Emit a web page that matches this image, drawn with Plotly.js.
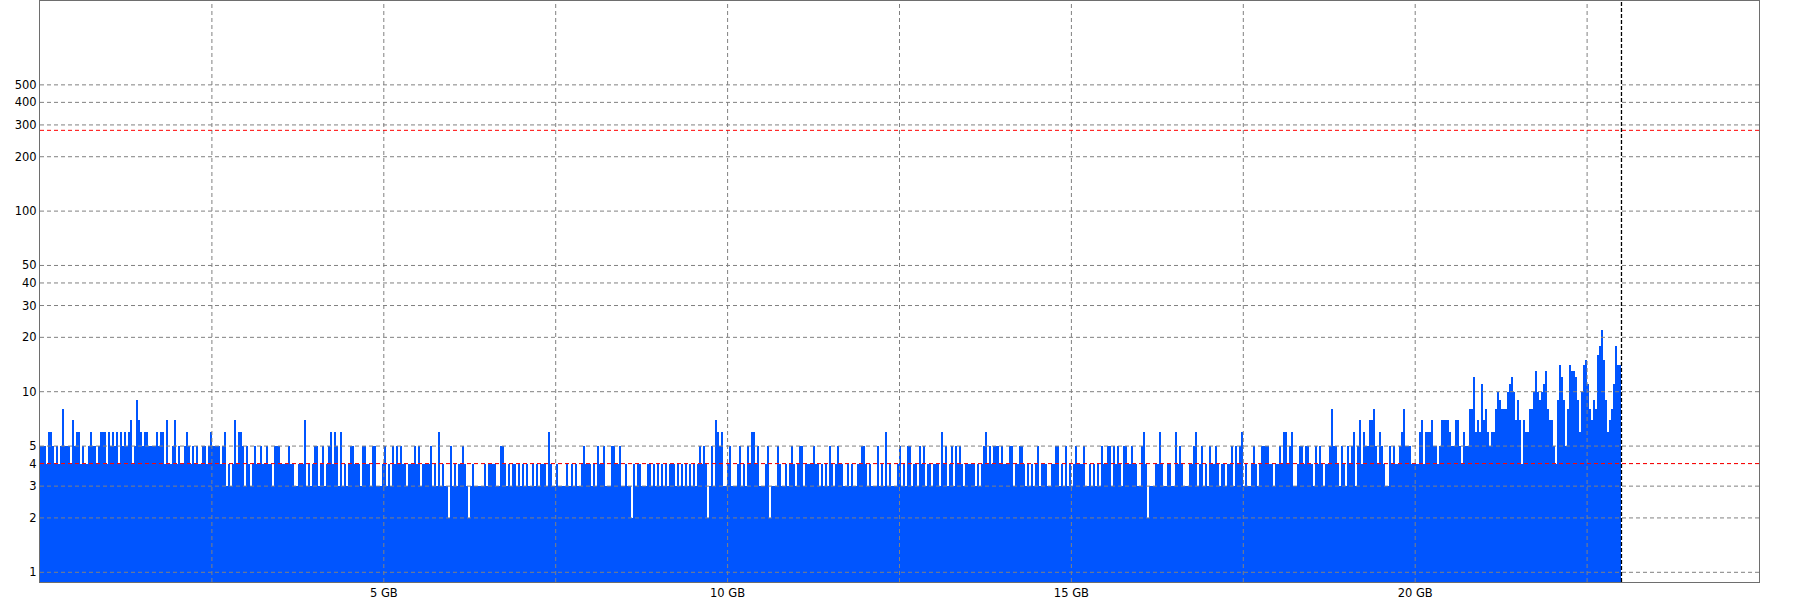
<!DOCTYPE html>
<html>
<head>
<meta charset="utf-8">
<script src="https://cdn.plot.ly/plotly-3.0.1.min.js"></script>
<style>
html,body{margin:0;padding:0;background:#ffffff;}
#chart{width:1800px;height:600px;}
</style>
</head>
<body>
<div id="chart"></div>
<script>
// Bar values (one bar per block), left to right
const seg1 = [
5,5,5,4,6,6,5,4,5,4, 5,8,5,5,5,4,7,5,6,6, 4,5,4,4,5,6,5,5,4,5, 6,6,6,4,6,5,6,5,6,4,
6,5,6,5,6,7,4,5,9,7, 6,5,6,6,5,5,5,5,6,5, 6,6,4,7,4,4,5,7,4,5, 4,4,5,6,5,4,5,4,5,4,
4,5,5,4,5,6,5,5,5,5, 4,5,6,3,4,3,4,7,4,6, 6,5,3,5,4,3,4,5,4,4, 5,4,4,5,4,4,3,5,5,5,
4,4,4,4,5,4,4,3,3,4, 4,4,7,3,4,3,4,5,5,3, 4,5,3,4,5,6,4,6,5,3, 6,3,4,3,4,5,5,4
];
const seg2 = [
4,4,3,5,5,4,4,3,5,5, 3,3,3,4,5,3,4,3,5,4, 5,4,5,4,4,3,4,4,4,5, 4,5,3,4,4,4,4,5,3,4,
3,6,3,4,3,3,2,5,3,4, 3,4,4,5,4,3,2,3,4,3, 3,3,3,3,4,3,4,4,4,4, 3,3,5,5,4,3,4,3,4,4,
3,4,3,4,3,4,3,3,4,3, 4,3,4,4,4,3,6,4,3,3, 4,3,3,3,3,4,3,4,3,4, 3,3,4,5,4,4,4,3,4,3,
5,4,4,5,3,3,3,5,5,4, 4,5,3,3,4,3,3,2,4,3, 4,4,3,3,3,4,4,3,4,3, 4,3,4,3,4,3,4,4
];
const seg3 = [
4,3,4,3,4,3,4,3,4,3, 4,3,4,5,4,5,4,2,3,5, 3,7,6,5,6,3,3,4,5,3, 3,3,4,5,3,4,3,5,4,6,
6,4,5,3,3,3,4,5,2,3, 3,3,5,4,3,3,4,3,4,5, 4,3,4,5,5,3,4,4,4,4, 5,4,4,3,4,3,4,3,5,4,
3,4,5,4,4,3,3,4,3,4, 3,3,4,4,5,5,4,3,4,3, 3,3,5,3,4,3,6,3,4,3, 3,3,4,5,3,4,3,5,5,3,
4,4,3,5,4,5,3,4,4,3, 4,4,4,3,6,4,5,3,4,5, 3,5,4,5,4,3,4,4,4,4, 4,3,4,3,4,5,6,4
];
const seg4 = [
5,4,5,5,5,4,5,4,4,4, 5,5,3,4,4,5,5,4,3,4, 3,4,3,4,5,3,4,4,4,3, 3,4,4,5,5,3,4,3,5,3,
4,3,4,5,4,4,4,5,3,3, 4,3,4,3,4,3,5,4,4,5, 5,3,5,4,5,4,3,5,5,4, 4,5,4,4,3,3,5,6,4,2,
3,3,3,4,4,6,4,3,3,4, 4,3,3,6,4,5,4,3,3,3, 4,4,5,6,3,4,5,3,4,3, 5,4,4,5,4,3,4,4,3,4,
4,5,3,5,4,5,6,3,4,3, 3,4,5,4,3,4,5,5,5,5, 4,4,3,4,4,5,4,6,6,4, 5,6,3,3,4,5,5,4
];
const seg5 = [
5,5,4,4,3,5,4,5,4,3, 4,4,5,8,5,5,4,3,5,4, 3,5,4,5,6,3,5,7,4,6, 5,5,7,7,8,5,4,6,5,4,
3,3,5,4,5,4,4,5,6,8, 5,5,5,4,4,4,4,6,7,4, 6,6,6,7,5,5,4,5,7,7, 7,7,6,5,5,7,7,5,4,6,
5,5,8,8,12,6,7,6,11,7, 8,6,5,6,6,8,10,9,8,8, 8,10,11,12,10,7,9,7,4,7, 6,6,8,8,10,13,10,9,10,11,
13,8,7,7,5,4,9,14,12,9, 5,8,14,13,13,12,9,6,10,14, 15,11,8,7,9,8,16,18,22,15, 9,6,7,8,11,18,14,14
];

const dataEndGB = 23.0;               // end of scanned area (black dashed line)
const xMaxGB = 25;
const yTickVals = [1, 2, 3, 4, 5, 10, 20, 30, 40, 50, 100, 200, 300, 400, 500];
const xGridVals = [2.5, 5, 7.5, 10, 12.5, 15, 17.5, 20, 22.5];
const xTickText = ['', '5 GB', '', '10 GB', '', '15 GB', '', '20 GB', ''];
const redLevels = [280, 4];

const values = [].concat(seg1, seg2, seg3, seg4, seg5);
const step = dataEndGB / values.length;
const xs = values.map((v, i) => (i + 0.5) * step);

const gridColor = '#808080';
const gridDash = '4px,3px';
const shapes = [];
yTickVals.forEach(v => shapes.push({
  type: 'line', layer: 'above', xref: 'paper', x0: 0, x1: 1, yref: 'y', y0: v, y1: v,
  line: {color: gridColor, width: 1, dash: gridDash}
}));
xGridVals.forEach(v => shapes.push({
  type: 'line', layer: 'above', xref: 'x', x0: v, x1: v, yref: 'paper', y0: 0, y1: 1,
  line: {color: gridColor, width: 1, dash: gridDash}
}));
redLevels.forEach(v => shapes.push({
  type: 'line', layer: 'above', xref: 'paper', x0: 0, x1: 1, yref: 'y', y0: v, y1: v,
  line: {color: '#ff0000', width: 1, dash: gridDash}
}));
shapes.push({
  type: 'line', layer: 'above', xref: 'x', x0: dataEndGB, x1: dataEndGB, yref: 'paper', y0: 0, y1: 1,
  line: {color: '#000000', width: 1.3, dash: '4px,2px'}
});

const trace = {
  type: 'bar',
  x: xs,
  y: values,
  width: step,
  marker: {color: '#0055ff', line: {width: 0}},
  hoverinfo: 'skip'
};

const font = {family: 'DejaVu Sans, Verdana, sans-serif', size: 11.5, color: '#000000'};

const layout = {
  width: 1800, height: 600,
  margin: {l: 40, r: 41, t: 1, b: 18, pad: 0},
  paper_bgcolor: '#ffffff', plot_bgcolor: '#ffffff',
  showlegend: false,
  bargap: 0,
  font: font,
  xaxis: {
    type: 'linear', range: [0, xMaxGB], fixedrange: true,
    tickmode: 'array', tickvals: xGridVals, ticktext: xTickText,
    showgrid: false, zeroline: false, ticks: '',
    showline: true, mirror: true, linecolor: '#6e6e6e', linewidth: 1,
    tickfont: font
  },
  yaxis: {
    type: 'log', range: [-0.0537, 3.1633], fixedrange: true,
    tickmode: 'array', tickvals: yTickVals, ticktext: yTickVals.map(String),
    showgrid: false, zeroline: false, ticks: '',
    showline: true, mirror: true, linecolor: '#6e6e6e', linewidth: 1,
    tickfont: font
  },
  shapes: shapes
};

Plotly.newPlot('chart', [trace], layout, {displayModeBar: false, staticPlot: true});
</script>
</body>
</html>
